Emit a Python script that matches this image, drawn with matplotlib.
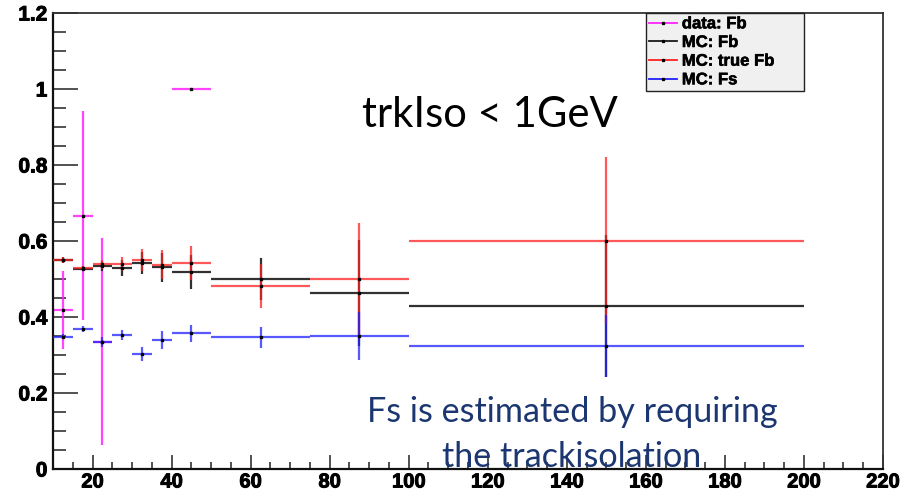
import numpy as np
import matplotlib
matplotlib.use("Agg")
import matplotlib.pyplot as plt
from matplotlib.lines import Line2D
from matplotlib.ticker import MultipleLocator, FixedLocator
import matplotlib.patheffects as pe

# ---------------- data ----------------
pt_edges = [10, 15, 20, 25, 30, 35, 40, 50, 75, 100, 200]

data_fb = [0.418, 0.667, 0.335, np.nan, np.nan, np.nan, 1.0, np.nan, np.nan, np.nan]
data_fb_err = [0.102, 0.274, 0.272, 0.0, 0.0, 0.0, 0.0, 0.0, 0.0, 0.0]

mc_fb = [0.550, 0.527, 0.534, 0.529, 0.543, 0.531, 0.519, 0.500, 0.463, 0.430]
mc_fb_err = [0.009, 0.006, 0.012, 0.020, 0.029, 0.038, 0.045, 0.055, 0.140, 0.187]

mc_true_fb = [0.550, 0.528, 0.539, 0.539, 0.550, 0.538, 0.543, 0.482, 0.500, 0.601]
mc_true_fb_err = [0.009, 0.006, 0.012, 0.018, 0.028, 0.037, 0.045, 0.058, 0.147, 0.220]

mc_fs = [0.348, 0.368, 0.335, 0.353, 0.302, 0.339, 0.357, 0.347, 0.350, 0.324]
mc_fs_err = [0.006, 0.008, 0.013, 0.013, 0.018, 0.023, 0.023, 0.028, 0.062, 0.081]

series_labels = ["data: Fb", "MC: Fb", "MC: true Fb", "MC: Fs"]
series_colors = ["#ff22ff", "#1a1a1a", "#ff2020", "#2020ff"]

x_ticks = [20, 40, 60, 80, 100, 120, 140, 160, 180, 200, 220]
y_ticks = [0, 0.2, 0.4, 0.6, 0.8, 1.0, 1.2]
y_tick_labels = ["0", "0.2", "0.4", "0.6", "0.8", "1", "1.2"]

title_text = "trkIso < 1GeV"
note_lines = ["Fs is estimated by requiring", "the trackisolation"]

# ---------------- figure ----------------
W, H = 909, 491
fig = plt.figure(figsize=(W / 100, H / 100), dpi=100)
fig.patch.set_facecolor("white")
ax = fig.add_axes([53 / W, 1 - 469 / H, 830 / W, 456 / H])

edges = np.array(pt_edges, dtype=float)
centers = 0.5 * (edges[:-1] + edges[1:])
halfw = 0.5 * (edges[1:] - edges[:-1])

all_vals = [data_fb, mc_fb, mc_true_fb, mc_fs]
all_errs = [data_fb_err, mc_fb_err, mc_true_fb_err, mc_fs_err]
alphas = [0.85, 0.9, 0.75, 0.75]

for i, (vals, errs, col, a) in enumerate(zip(all_vals, all_errs, series_colors, alphas)):
    v = np.array(vals, dtype=float)
    e = np.array(errs, dtype=float)
    m = ~np.isnan(v)
    ax.errorbar(centers[m], v[m], xerr=halfw[m], yerr=e[m], fmt="none",
                ecolor=col, elinewidth=1.6, capsize=0, alpha=a, zorder=2 + i)
    ax.plot(centers[m], v[m], linestyle="none", marker="s", ms=1.4,
            mfc="black", mec="black", zorder=10)

ax.set_xlim(10, 220)
ax.set_ylim(0, 1.2)

ax.xaxis.set_major_locator(FixedLocator(x_ticks))
ax.xaxis.set_minor_locator(MultipleLocator(5))
ax.yaxis.set_major_locator(FixedLocator(y_ticks))
ax.yaxis.set_minor_locator(MultipleLocator(0.05))
ax.set_yticklabels(y_tick_labels)
ax.set_xticklabels([str(t) for t in x_ticks])

ax.tick_params(axis="y", which="major", direction="in", length=18, width=1.1,
               color="#222222", pad=4.0, labelsize=15, right=False)
ax.tick_params(axis="y", which="minor", direction="in", length=9.4, width=1.1,
               color="#222222", right=False)
ax.tick_params(axis="x", which="major", direction="in", length=10, width=1.1,
               color="#222222", pad=2.5, labelsize=14.5, top=False)
ax.tick_params(axis="x", which="minor", direction="in", length=5, width=1.1,
               color="#222222", top=False)
heavy = [pe.withStroke(linewidth=0.7, foreground="black")]
for lab in ax.get_xticklabels() + ax.get_yticklabels():
    lab.set_fontfamily("Liberation Sans")
    lab.set_fontweight("bold")
    lab.set_path_effects(heavy)

for s in ["left", "bottom"]:
    ax.spines[s].set_linewidth(1.6)
    ax.spines[s].set_color("#111111")
for s in ["top", "right"]:
    ax.spines[s].set_linewidth(1.3)
    ax.spines[s].set_color("#333333")

# legend
handles = [Line2D([], [], color=c, lw=1.3, marker="s", ms=1.4, mfc="black", mec="black")
           for c in series_colors]
leg = fig.legend(handles, series_labels, loc="upper left",
                 bbox_to_anchor=(646 / W, 1 - 89 / H, 158 / W, 76 / H),
                 mode="expand", borderaxespad=0, borderpad=0.2,
                 labelspacing=0.22, handlelength=1.65, handletextpad=0.3,
                 frameon=True, fancybox=False, framealpha=1,
                 prop={"family": "Liberation Sans", "weight": "bold", "size": 12})
leg.get_frame().set_facecolor("#f0f0f0")
leg.get_frame().set_edgecolor("#222222")
leg.get_frame().set_linewidth(1.0)
for t in leg.get_texts():
    t.set_path_effects([pe.withStroke(linewidth=0.4, foreground="black")])

# texts
renderer = fig.canvas.get_renderer()

def fit_text(x, y, s, target_w, color, ha, size0):
    t = fig.text(x, y, s, ha=ha, va="baseline", fontsize=size0,
                 family=["Lato", "DejaVu Sans"], color=color, zorder=20)
    w = t.get_window_extent(renderer).width
    t.set_fontsize(size0 * target_w / w)
    return t

fit_text(362 / W, 1 - 127 / H, title_text, 255, "black", "left", 30)
t2 = fit_text(572 / W, 1 - 467 / H, note_lines[1], 260, "#1b3670", "center", 24)
fig.text(572 / W, 1 - 422 / H, note_lines[0], ha="center", va="baseline",
         fontsize=t2.get_fontsize(), family=["Lato", "DejaVu Sans"],
         color="#1b3670", zorder=20)

fig.savefig("out.png", dpi=100, facecolor="white")
